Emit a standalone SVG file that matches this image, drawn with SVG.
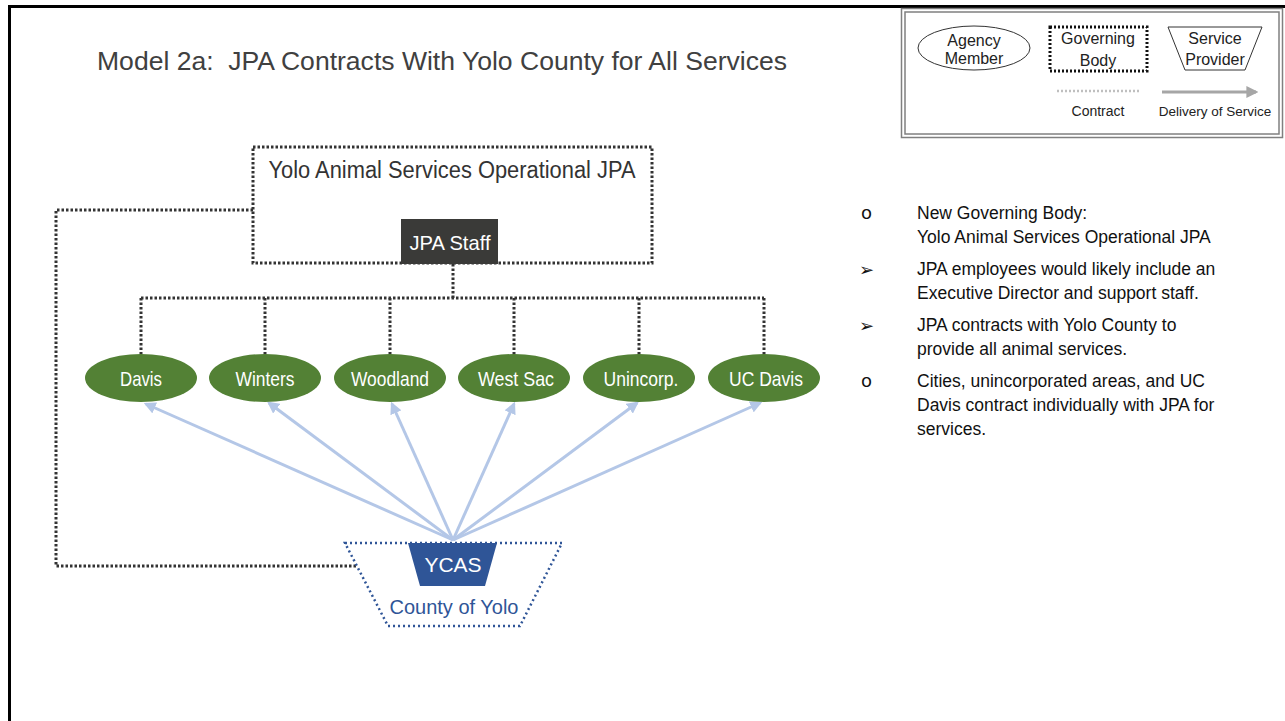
<svg xmlns="http://www.w3.org/2000/svg" width="1285" height="721" viewBox="0 0 1285 721">
<style>
.t{font-family:"Liberation Sans",Arial,sans-serif;}
.contract{fill:none;stroke:#333;stroke-width:3;stroke-dasharray:2.5 2;}
.deliv{fill:none;stroke:#B4C7E7;stroke-width:3;}
.memb{fill:#538135;}
.mt{font-family:"Liberation Sans",Arial,sans-serif;font-size:21px;fill:#fff;text-anchor:middle;}
.bl{font-family:"Liberation Sans",Arial,sans-serif;font-size:17.5px;fill:#111;}
.bu{font-family:"DejaVu Sans",sans-serif;font-size:18px;fill:#111;}
.lg{font-family:"Liberation Sans",Arial,sans-serif;fill:#222;text-anchor:middle;}
</style>
<defs>
<marker id="ah" viewBox="0 0 10 10" refX="8" refY="5" markerWidth="4" markerHeight="4" orient="auto" markerUnits="strokeWidth">
<path d="M0,0 L10,5 L0,10 z" fill="#B4C7E7"/>
</marker>
<marker id="ahg" viewBox="0 0 10 10" refX="8" refY="5" markerWidth="4" markerHeight="4" orient="auto" markerUnits="strokeWidth">
<path d="M0,0 L10,5 L0,10 z" fill="#A6A6A6"/>
</marker>
</defs>
<rect width="1285" height="721" fill="#fff"/>
<path d="M9.5,721 V6.5 H1285" fill="none" stroke="#000" stroke-width="3"/>

<text class="t" x="97" y="70" font-size="25" fill="#404040" xml:space="preserve" textLength="690" lengthAdjust="spacingAndGlyphs">Model 2a:  JPA Contracts With Yolo County for All Services</text>

<g id="legend">
<rect x="901.5" y="8.5" width="381" height="129" fill="#fff" stroke="#808080" stroke-width="1.5"/>
<rect x="905" y="12" width="374" height="122" fill="none" stroke="#808080" stroke-width="1.5"/>
<ellipse cx="974" cy="48" rx="56" ry="22" fill="#fff" stroke="#333" stroke-width="1"/>
<text class="lg" x="974" y="46" font-size="16">Agency</text>
<text class="lg" x="974" y="64" font-size="16">Member</text>
<rect x="1050" y="27" width="97" height="44" fill="none" stroke="#111" stroke-width="3" stroke-dasharray="2 2"/>
<text class="lg" x="1098" y="44" font-size="16">Governing</text>
<text class="lg" x="1098" y="66" font-size="16">Body</text>
<path d="M1168,27 H1262 L1245,70 H1185 Z" fill="#fff" stroke="#333" stroke-width="1"/>
<text class="lg" x="1215" y="44" font-size="16">Service</text>
<text class="lg" x="1215" y="65" font-size="16">Provider</text>
<line x1="1057" y1="91" x2="1139" y2="91" stroke="#BFBFBF" stroke-width="2.5" stroke-dasharray="2 2"/>
<line x1="1162" y1="92" x2="1256" y2="92" stroke="#A6A6A6" stroke-width="3" marker-end="url(#ahg)"/>
<text class="lg" x="1098" y="116" font-size="14">Contract</text>
<text class="lg" x="1215" y="116" font-size="13.5">Delivery of Service</text>
</g>

<g id="connectors">
<path class="contract" d="M253,210 H56 V566 H356"/>
<path class="contract" d="M453,264 V298"/>
<path class="contract" d="M141,298 H764"/>
<path class="contract" d="M141,298 V355 M265,298 V355 M390,298 V355 M514,298 V355 M639,298 V355 M764,298 V355"/>
<line class="deliv" x1="453" y1="540" x2="146" y2="404" marker-end="url(#ah)"/>
<line class="deliv" x1="453" y1="540" x2="269" y2="403" marker-end="url(#ah)"/>
<line class="deliv" x1="453" y1="540" x2="392" y2="404" marker-end="url(#ah)"/>
<line class="deliv" x1="453" y1="540" x2="514" y2="404" marker-end="url(#ah)"/>
<line class="deliv" x1="453" y1="540" x2="637" y2="403" marker-end="url(#ah)"/>
<line class="deliv" x1="453" y1="540" x2="760" y2="403" marker-end="url(#ah)"/>
</g>

<g id="jpa">
<rect x="253" y="147" width="399" height="116" fill="none" stroke="#333" stroke-width="3" stroke-dasharray="2.5 2"/>
<text class="t" x="452" y="178" font-size="23" fill="#333" text-anchor="middle" textLength="367" lengthAdjust="spacingAndGlyphs">Yolo Animal Services Operational JPA</text>
</g>
<g id="jpa-staff">
<rect x="401" y="219" width="97" height="45" fill="#3A3A38"/>
<text class="t" x="450" y="250" font-size="21" fill="#fff" text-anchor="middle" textLength="81" lengthAdjust="spacingAndGlyphs">JPA Staff</text>
</g>

<g id="davis"><ellipse class="memb" cx="141" cy="378" rx="56" ry="24"/><text class="mt" x="141" y="386" textLength="42" lengthAdjust="spacingAndGlyphs">Davis</text></g>
<g id="winters"><ellipse class="memb" cx="265" cy="378" rx="56" ry="24"/><text class="mt" x="265" y="386" textLength="59" lengthAdjust="spacingAndGlyphs">Winters</text></g>
<g id="woodland"><ellipse class="memb" cx="390" cy="378" rx="56" ry="24"/><text class="mt" x="390" y="386" textLength="78" lengthAdjust="spacingAndGlyphs">Woodland</text></g>
<g id="westsac"><ellipse class="memb" cx="514" cy="378" rx="56" ry="24"/><text class="mt" x="516" y="386" textLength="76" lengthAdjust="spacingAndGlyphs">West Sac</text></g>
<g id="unincorp"><ellipse class="memb" cx="639" cy="378" rx="56" ry="24"/><text class="mt" x="641" y="386" textLength="75" lengthAdjust="spacingAndGlyphs">Unincorp.</text></g>
<g id="ucdavis"><ellipse class="memb" cx="764" cy="378" rx="56" ry="24"/><text class="mt" x="766" y="386" textLength="74" lengthAdjust="spacingAndGlyphs">UC Davis</text></g>

<g id="county">
<path d="M345,543 H562 L520,626 H388 Z" fill="#fff" stroke="#2F5597" stroke-width="2.5" stroke-dasharray="2 3"/>
<text class="t" x="454" y="614" font-size="20" fill="#2F5597" text-anchor="middle">County of Yolo</text>
</g>
<g id="ycas">
<path d="M408,543 H497 L485,586 H420 Z" fill="#2F5597"/>
<text class="t" x="453" y="572" font-size="21" fill="#fff" text-anchor="middle">YCAS</text>
</g>

<g id="bullets">
<text class="bu" x="861" y="219">o</text>
<text class="bl" x="917" y="219">New Governing Body:</text>
<text class="bl" x="917" y="243">Yolo Animal Services Operational JPA</text>
<text class="bu" x="859" y="276">➢</text>
<text class="bl" x="917" y="275">JPA employees would likely include an</text>
<text class="bl" x="917" y="299">Executive Director and support staff.</text>
<text class="bu" x="859" y="332">➢</text>
<text class="bl" x="917" y="331">JPA contracts with Yolo County to</text>
<text class="bl" x="917" y="355">provide all animal services.</text>
<text class="bu" x="861" y="387">o</text>
<text class="bl" x="917" y="387">Cities, unincorporated areas, and UC</text>
<text class="bl" x="917" y="411">Davis contract individually with JPA for</text>
<text class="bl" x="917" y="435">services.</text>
</g>
</svg>
